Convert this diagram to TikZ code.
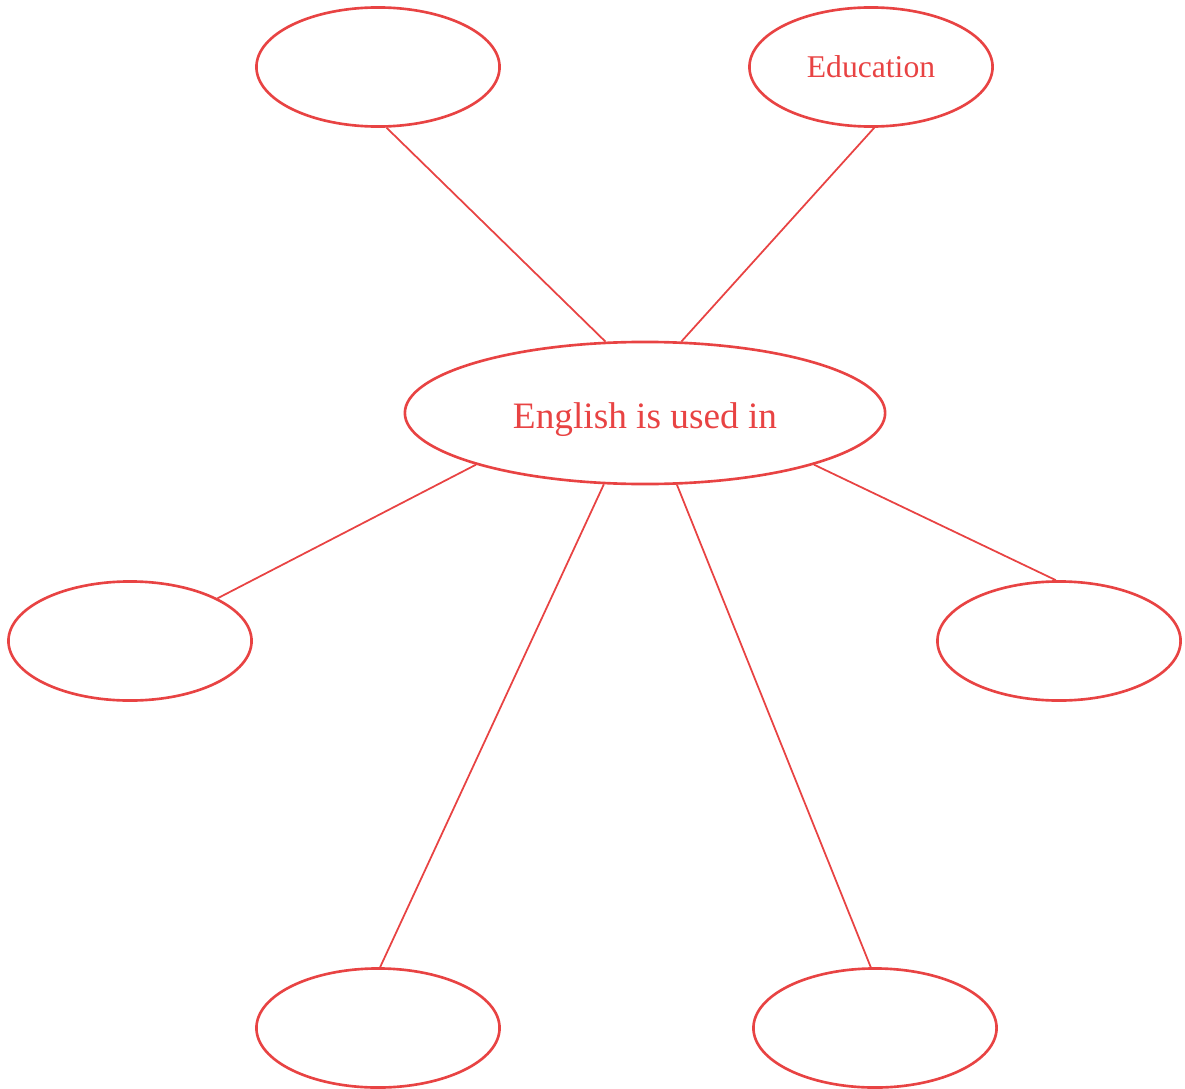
\documentclass[tikz,border=0pt]{standalone}
\usepackage{fontspec}
\setmainfont{Liberation Serif}
\usepackage{xcolor}
\usetikzlibrary{shapes.geometric}
\definecolor{mapred}{HTML}{E84343}
\tikzset{
  %% hub and satellite ellipses
  hubnode/.style={
    ellipse, draw=mapred, line width=0.75pt, text=mapred,
    inner sep=0pt, minimum width=4.80cm, minimum height=1.42cm,
    font=\fontsize{10.6}{12}\selectfont},
  leafnode/.style={
    ellipse, draw=mapred, line width=0.75pt, text=mapred,
    inner sep=0pt, minimum width=2.43cm, minimum height=1.19cm,
    font=\fontsize{9}{11}\selectfont},
  %% connectors
  link/.style={draw=mapred, line width=0.5pt},
}
\begin{document}
\begin{tikzpicture}[x=0.01cm, y=-0.01cm]
  \useasboundingbox (0,0) rectangle (1185,1088);

  %% Centre
  \node[hubnode] (eng) at (645,413) {\raisebox{-4.4pt}[0pt][0pt]{English is used in}};

  %% Satellites
  \node[leafnode] (tl)  at (378,67)   {};
  \node[leafnode] (edu) at (871,67)   {Education};
  \node[leafnode] (lft) at (130,641)  {};
  \node[leafnode] (rgt) at (1059,641) {};
  \node[leafnode] (bl)  at (378,1028) {};
  \node[leafnode] (br)  at (875,1028) {};

  %% Connectors
  \draw[link] (eng.119.4) -- (tl.278.5);
  \draw[link] (eng.63.8)  -- (edu.273.9);
  \draw[link] (eng.197)   -- (lft.26.6);
  \draw[link] (eng.343.1) -- (rgt.93.8);
  \draw[link] (eng.240.6) -- (bl.88);
  \draw[link] (eng.294.9) -- (br.94.8);

\end{tikzpicture}
\end{document}
